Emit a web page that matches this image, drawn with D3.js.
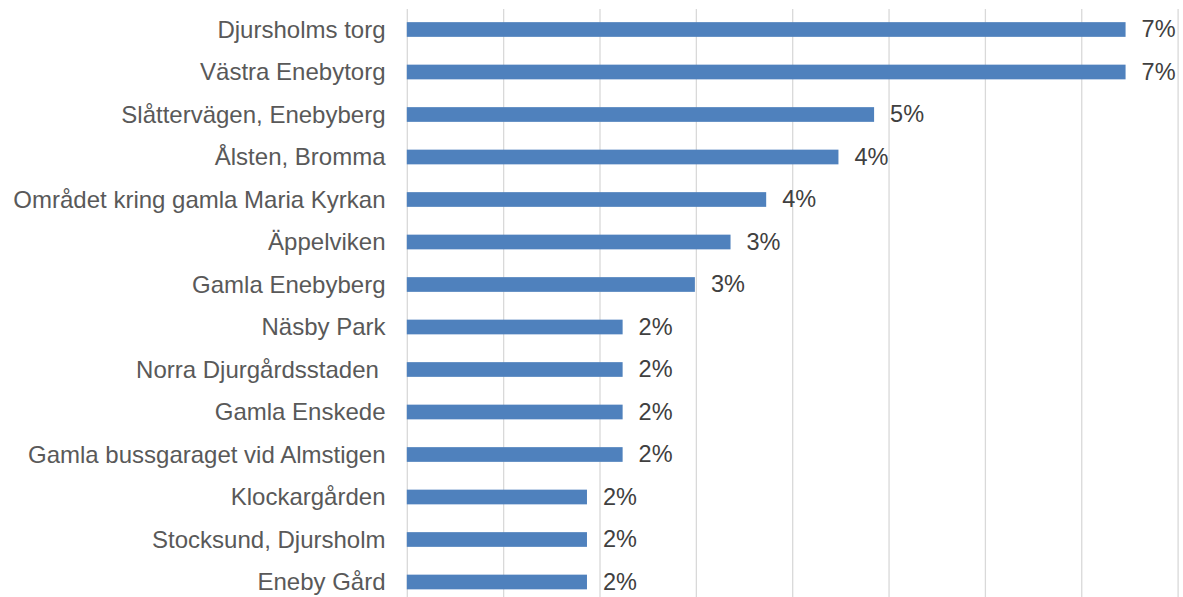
<!DOCTYPE html>
<html>
<head>
<meta charset="utf-8">
<script src="https://cdn.jsdelivr.net/npm/d3@7"></script>
<style>
  html, body { margin: 0; padding: 0; background: #fff; }
  svg { display: block; font-family: "Liberation Sans", Arial, sans-serif; }
</style>
</head>
<body>
<svg id="chart" width="1183" height="597"></svg>
<script>
// Places, top to bottom
const places = [
  "Djursholms torg",
  "Västra Enebytorg",
  "Slåttervägen, Enebyberg",
  "Ålsten, Bromma",
  "Området kring gamla Maria Kyrkan",
  "Äppelviken",
  "Gamla Enebyberg",
  "Näsby Park",
  "Norra Djurgårdsstaden ",
  "Gamla Enskede",
  "Gamla bussgaraget vid Almstigen",
  "Klockargården",
  "Stocksund, Djursholm",
  "Eneby Gård"
];

// Share of answers per place
const shares = [
  0.0746, 0.0746, 0.0485, 0.0448, 0.0373, 0.0336, 0.0299,
  0.0224, 0.0224, 0.0224, 0.0224, 0.0187, 0.0187, 0.0187
];

// Gridline positions
const gridTicks = [0, 0.01, 0.02, 0.03, 0.04, 0.05, 0.06, 0.07, 0.08];

const data = places.map((p, i) => ({ place: p, share: shares[i] }));

const svg = d3.select("#chart");
const plot = { left: 406.8, right: 1177.6, top: 8.25, bottom: 603.25 };

const x = d3.scaleLinear()
  .domain([0, 0.08])
  .range([plot.left, plot.right]);

const y = d3.scaleBand()
  .domain(places)
  .range([plot.top, plot.bottom])
  .paddingInner(0.654)
  .paddingOuter(0.327);

// Vertical gridlines
const grid = d3.axisBottom(x)
  .tickValues(gridTicks)
  .tickSize(plot.bottom - 9)
  .tickFormat("");
svg.append("g")
  .attr("transform", "translate(0,9)")
  .call(grid)
  .call(g => g.select(".domain").remove())
  .call(g => g.selectAll(".tick line")
    .attr("stroke", "#d9d9d9")
    .attr("stroke-width", 1.3));

// Bars
svg.append("g")
  .selectAll("rect")
  .data(data)
  .join("rect")
  .attr("x", x(0))
  .attr("y", d => y(d.place))
  .attr("width", d => x(d.share) - x(0))
  .attr("height", y.bandwidth())
  .attr("fill", "#4f81bd");

// Category labels
const yAxis = d3.axisLeft(y).tickSize(0).tickPadding(0);
svg.append("g")
  .attr("transform", `translate(385.5,0)`)
  .call(yAxis)
  .call(g => g.select(".domain").remove())
  .call(g => g.selectAll("text")
    .attr("fill", "#595959")
    .attr("font-size", "24px")
    .attr("font-family", "'Liberation Sans', Arial, sans-serif")
    .attr("dy", "0.34em")
    .style("white-space", "pre"));

// Value labels
const fmt = d3.format(".0%");
svg.append("g")
  .selectAll("text")
  .data(data)
  .join("text")
  .attr("x", d => x(d.share) + 16)
  .attr("y", d => y(d.place) + y.bandwidth() / 2)
  .attr("dy", "0.34em")
  .attr("fill", "#404040")
  .attr("font-size", "23.5px")
  .text(d => fmt(d.share));
</script>
</body>
</html>
